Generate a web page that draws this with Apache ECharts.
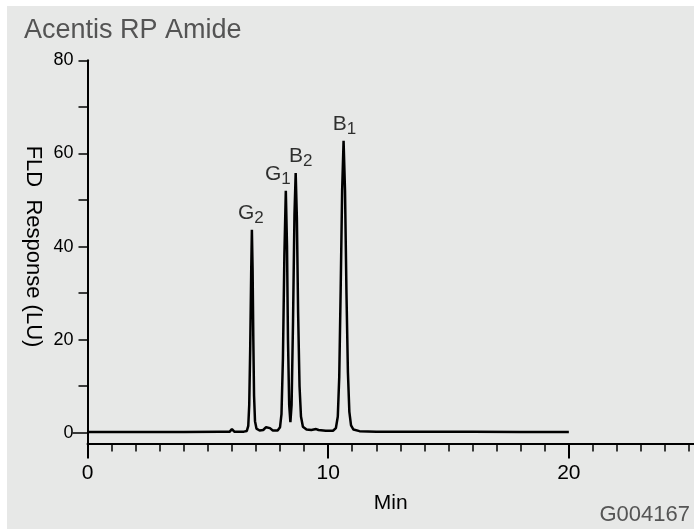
<!DOCTYPE html>
<html>
<head>
<meta charset="utf-8">
<script src="https://cdn.jsdelivr.net/npm/echarts@6/dist/echarts.min.js"></script>
<style>
html,body{margin:0;padding:0;background:#fff;}
#chart{width:694px;height:529px;}
</style>
</head>
<body>
<div id="chart"></div>
<script>
// Chromatogram trace (minutes, LU)
var timeMin = [0, 2, 4, 5.5, 5.9, 6.0, 6.1, 6.5, 6.62, 6.68, 6.72, 6.76, 6.80, 6.83, 6.86, 6.89, 6.92, 6.96, 7.02, 7.15, 7.3, 7.42, 7.5, 7.58, 7.7, 7.9, 8.0, 8.06, 8.12, 8.18, 8.24, 8.29, 8.33, 8.38, 8.43, 8.48, 8.54, 8.60, 8.65, 8.70, 8.75, 8.81, 8.87, 8.95, 9.1, 9.3, 9.5, 9.6, 9.9, 10.2, 10.32, 10.4, 10.46, 10.52, 10.58, 10.64, 10.70, 10.76, 10.82, 10.88, 10.95, 11.05, 11.3, 12, 14, 16, 18, 20];
var responseLU = [0.15, 0.15, 0.15, 0.2, 0.2, 0.8, 0.25, 0.25, 0.4, 1.5, 6, 18, 34, 43.6, 35, 20, 8, 2.5, 0.9, 0.5, 0.6, 1.2, 1.4, 1.0, 0.5, 0.5, 1.2, 4, 16, 38, 52.0, 40, 20, 6, 2.3, 6, 24, 47, 55.8, 46, 26, 10, 3.5, 1.3, 0.7, 0.6, 0.8, 0.6, 0.45, 0.45, 1.0, 3.5, 12, 31, 52, 62.7, 52, 30, 13, 4.5, 1.6, 0.7, 0.35, 0.25, 0.2, 0.2, 0.15, 0.15];

// Peak annotations
var peakLetters = ['G', 'G', 'B', 'B'];
var peakSubs = ['2', '1', '2', '1'];
var peakTimes = [6.83, 8.24, 8.65, 10.64];
var peakHeights = [43.6, 52.0, 55.8, 62.7];

// Axis ticks / labels
var xMinorTicks = [0,1,2,3,4,5,6,7,8,9,10,11,12,13,14,15,16,17,18,19,20,21,22,23,24,25];
var xMajorTicks = [0, 10, 20];
var xLabels = [0, 10, 20];
var yTicks = [0, 10, 20, 30, 40, 50, 60, 70, 80];
var yLabels = [0, 20, 40, 60, 80];

var titleText = 'Acentis RP Amide';
var xName = 'Min';
var yName = 'FLD  Response (LU)';
var codeText = 'G004167';

var labelOffsets = [[-1, 2], [-8, 2], [5, 2], [1, 2]];

var trace = timeMin.map(function (t, i) { return [t, responseLU[i]]; });
var peaks = peakTimes.map(function (t, i) {
  return {
    value: [t, peakHeights[i]],
    label: { offset: labelOffsets[i], formatter: '{m|' + peakLetters[i] + '}{s|' + peakSubs[i] + '}' }
  };
});

var FONT = '"Liberation Sans", Arial, Helvetica, sans-serif';
var chart = echarts.init(document.getElementById('chart'), null, { renderer: 'canvas' });
chart.setOption({
  backgroundColor: '#e7e8e7',
  animation: false,
  textStyle: { fontFamily: FONT },
  title: {
    text: titleText, left: 24, top: 17, padding: 0,
    textStyle: { fontFamily: FONT, fontSize: 27, fontWeight: 'normal', color: '#545454' }
  },
  graphic: [
    { type: 'rect', shape: { x: 0, y: 0, width: 694, height: 6 }, style: { fill: '#ffffff' }, z: 100 },
    { type: 'rect', shape: { x: 0, y: 0, width: 7, height: 529 }, style: { fill: '#ffffff' }, z: 100 },
    { type: 'text', x: 690, y: 504, style: { text: codeText, fontFamily: FONT, fontSize: 22, fill: '#555555', textAlign: 'right', textVerticalAlign: 'top' } },
    { type: 'text', x: 33, y: 246.5, rotation: -Math.PI / 2,
      style: { text: yName, fontFamily: FONT, fontSize: 22, fill: '#000', textAlign: 'center', textVerticalAlign: 'middle' } }
  ],
  grid: { left: 87.5, right: 0, top: 60.3, bottom: 85.5, containLabel: false },
  xAxis: [{
    type: 'value', min: 0, max: 25.2, interval: 1, position: 'bottom',
    name: xName, nameLocation: 'middle', nameGap: 49,
    nameTextStyle: { fontFamily: FONT, fontSize: 21, color: '#000' },
    axisLine: { show: true, onZero: false, lineStyle: { color: '#000', width: 2 } },
    axisTick: { show: true, length: 8, customValues: xMinorTicks, lineStyle: { color: '#000', width: 1.5 } },
    axisLabel: { show: true, customValues: xLabels, margin: 19, fontFamily: FONT, fontSize: 21, color: '#000' },
    splitLine: { show: false }
  }, {
    type: 'value', min: 0, max: 25.2, interval: 1, position: 'bottom', offset: 0,
    axisLine: { show: false, onZero: false },
    axisTick: { show: true, length: 15, customValues: xMajorTicks, lineStyle: { color: '#000', width: 2 } },
    axisLabel: { show: false },
    splitLine: { show: false }
  }],
  yAxis: [{
    type: 'value', min: -2.3, max: 80, position: 'left',
    axisLine: { show: true, onZero: false, lineStyle: { color: '#000', width: 2 } },
    axisTick: { show: true, length: 9, customValues: yTicks, lineStyle: { color: '#000', width: 1.5 } },
    axisLabel: { show: true, customValues: yLabels, margin: 14, fontFamily: FONT, fontSize: 18, color: '#000' },
    splitLine: { show: false }
  }, {
    type: 'value', min: -2.3, max: 80, position: 'left', offset: 0,
    axisLine: { show: false, onZero: false },
    axisTick: { show: true, length: 15, customValues: [0], lineStyle: { color: '#000', width: 1.5 } },
    axisLabel: { show: false },
    splitLine: { show: false }
  }],
  series: [{
    type: 'line', data: trace, showSymbol: false, symbol: 'none',
    lineStyle: { color: '#000', width: 2.5 }, z: 3
  }, {
    type: 'scatter', data: peaks, symbolSize: 0, z: 4,
    label: {
      show: true, position: 'top', distance: 5,
      rich: {
        m: { fontFamily: FONT, fontSize: 21, color: '#000', verticalAlign: 'bottom', padding: [0, 0, 3, 0] },
        s: { fontFamily: FONT, fontSize: 17, color: '#000', verticalAlign: 'bottom' }
      }
    }
  }]
});
</script>
</body>
</html>
